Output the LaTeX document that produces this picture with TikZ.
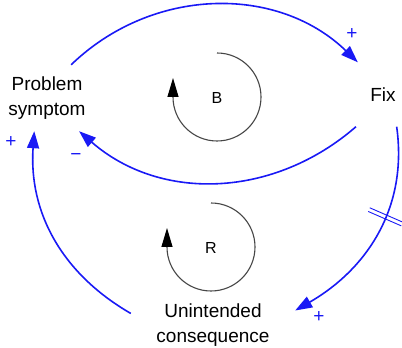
\documentclass[tikz,border=0pt]{standalone}
\usepackage{fontspec}
\setmainfont{Liberation Sans}
\usetikzlibrary{arrows.meta, decorations.markings}
\definecolor{linkblue}{RGB}{25, 25, 245}
\definecolor{loopgray}{RGB}{70, 70, 70}

\begin{document}
\begin{tikzpicture}[x=1pt, y=1pt,
  every node/.style={font=\fontsize{19}{24.5}\selectfont, inner sep=0pt},
  link/.style={draw=linkblue, line width=1.6pt, -{Triangle[length=17pt, width=12pt]}},
  polarity/.style={text=linkblue},
  loopline/.style={draw=loopgray, line width=1.1pt, -{Triangle[length=19pt, width=11pt, color=black]}},
  looplabel/.style={font=\fontsize{16}{18}\selectfont}]
\useasboundingbox (0,0) rectangle (402,348);
\node[align=center, minimum width=84pt, minimum height=66pt] (ps) at (47,250) {Problem\\symptom};
\node[minimum width=60pt, minimum height=64pt] (fix) at (383,253.5) {Fix};
\node[align=center, minimum width=164pt] (uc) at (213,23) {Unintended\\consequence};
\node[looplabel] (b) at (217,250) {B};
\node[looplabel] (r) at (211,100) {R};
% causal links
\draw[link] (ps.54.5) to[out=44, in=136] (fix.128.7);
\draw[link] (fix.-130.3) to[out=221, in=-41] (ps.-46);
\draw[link, postaction={decorate}, decoration={markings, mark=at position 0.41 with
  {\draw[-, line width=0.9pt] (-2pt,-18pt) -- (-2pt,18pt) (2pt,-18pt) -- (2pt,18pt);}}]
  (fix.-67.9) to[out=-82, in=30] (uc.10.4);
\draw[link] (uc.172.4) to[out=150, in=-94] (ps.-111);
% polarities
\node[polarity] (p1) at (352,314) {+};
\node[polarity] (p2) at (76,191) {−};
\node[polarity] (p3) at (11,206) {+};
\node[polarity] (p4) at (319,31) {+};
% loop markers
\draw[loopline] ([yshift=45pt]b.center) arc[start angle=90, end angle=-180, radius=44pt] -- ++(0,19);
\draw[loopline] ([yshift=45pt]r.center) arc[start angle=90, end angle=-180, radius=44pt] -- ++(0,19);
\end{tikzpicture}
\end{document}
